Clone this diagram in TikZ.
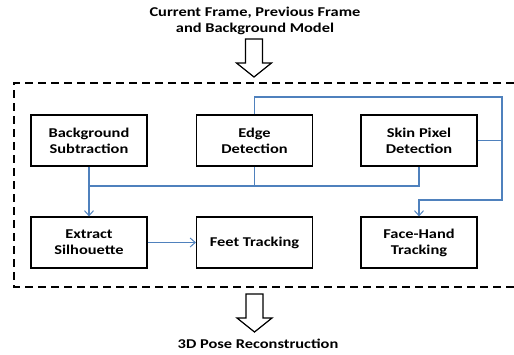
\documentclass[tikz,border=0pt]{standalone}
\usepackage{fontspec}
\setmainfont[FakeStretch=1.22]{Carlito}
\usetikzlibrary{arrows.meta}

\definecolor{linkblue}{HTML}{4F81BD}

\tikzset{
  stagebox/.style={draw=black, line width=1.2bp, minimum width=116bp, minimum height=51bp,
                   align=center, inner sep=0pt, font=\bfseries\fontsize{13.5}{16}\selectfont},
  caption/.style={align=center, inner sep=0pt, font=\bfseries\fontsize{13.5}{16}\selectfont},
  link/.style={draw=linkblue, line width=1.1bp},
  linkarrow/.style={link, -{Straight Barb[length=5bp,width=9bp,line width=1bp]}},
  frame/.style={draw=black, line width=1.2bp, dash pattern=on 8bp off 5bp},
  hollow/.style={draw=black, line width=1.2bp, fill=white},
  pics/blockarrow/.style={code={
    \path[hollow] (-8.5bp,0) -- (8.5bp,0) -- (8.5bp,-24bp) -- (17.5bp,-24bp)
      -- (0,-38bp) -- (-17.5bp,-24bp) -- (-8.5bp,-24bp) -- cycle;
  }}
}

\begin{document}
\begin{tikzpicture}[x=1bp, y=-1bp]
  \useasboundingbox (0,0) rectangle (514,354);

  % inputs and output
  \node[caption] (inputs) at (255,21) {Current Frame, Previous Frame\\and Background Model};
  \node[caption, anchor=center] (output) at (258,344) {3D Pose Reconstruction};
  \pic at (254,39) {blockarrow};
  \pic at (254.5,294) {blockarrow};

  % processing boundary (open to the right)
  \draw[frame] (514,83) -- (14,83) -- (14,287) -- (514,287);

  % first row of stages
  \node[stagebox] (bg)   at (89,140.5)    {Background\\Subtraction};
  \node[stagebox] (edge) at (254.5,140.5) {Edge\\Detection};
  \node[stagebox] (skin) at (419,140.5)   {Skin Pixel\\Detection};

  % second row of stages
  \node[stagebox] (sil)  at (89,242.5)    {Extract\\Silhouette};
  \node[stagebox] (feet) at (254.5,242.5) {Feet Tracking};
  \node[stagebox] (face) at (419,242.5)   {Face-Hand\\Tracking};

  % lower bus into the silhouette stage
  \coordinate (busL) at (89,186);
  \coordinate (busR) at (419,186);
  \draw[link] (bg.south) -- (busL) -- (busR) -- (skin.south);
  \draw[link] (edge.south) -- (edge.south |- busL);
  \draw[linkarrow] (busL) -- (sil.north);

  % upper loop into the face-hand stage
  \coordinate (loopT) at (502,97);
  \coordinate (loopB) at (502,200);
  \draw[linkarrow] (edge.north) |- (loopT) -- (loopB) -| (face.north);
  \draw[link] (skin.east) -- (skin.east -| loopT);

  % silhouette feeds feet tracking
  \draw[linkarrow] (sil.east) -- (feet.west);
\end{tikzpicture}
\end{document}
